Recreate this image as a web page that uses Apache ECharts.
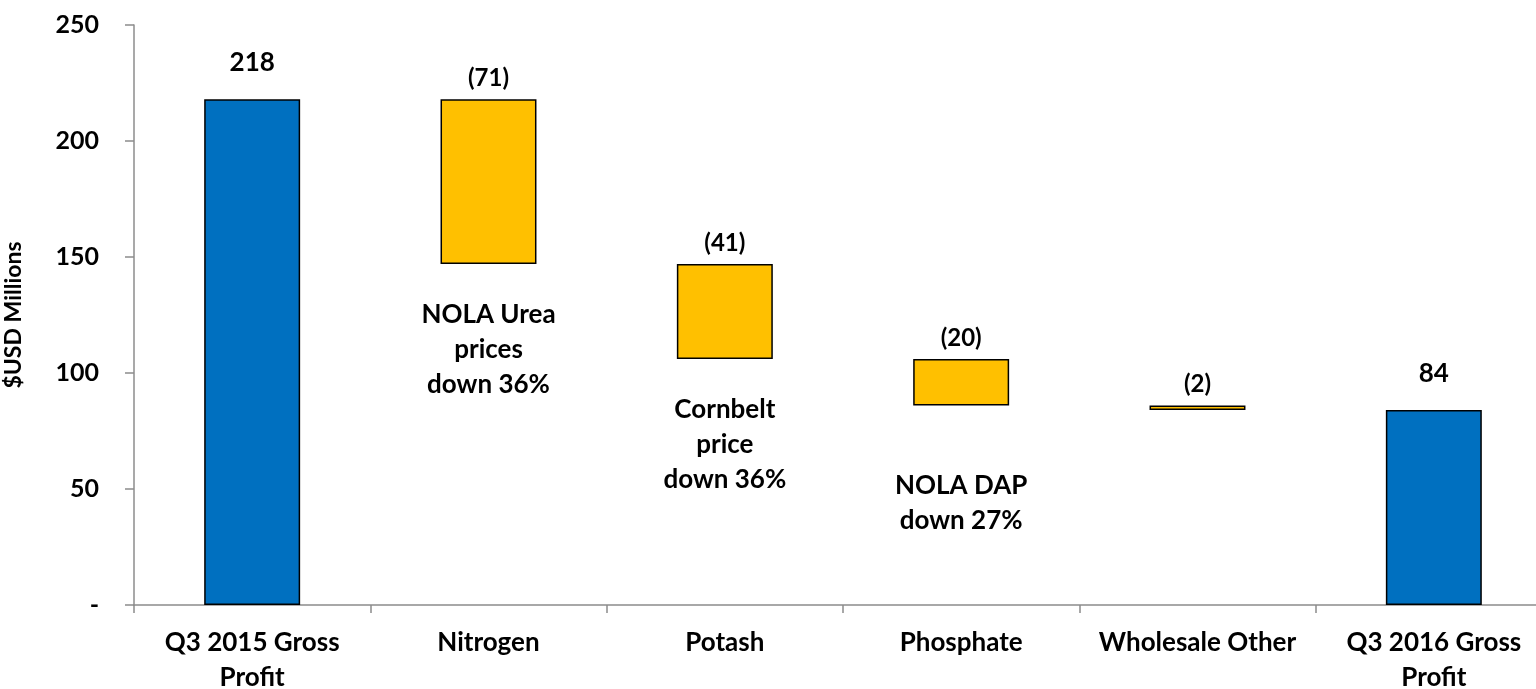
<!DOCTYPE html>
<html>
<head>
<meta charset="utf-8">
<script src="https://cdn.jsdelivr.net/npm/echarts@6/dist/echarts.min.js"></script>
<style>
  html, body { margin: 0; padding: 0; background: #ffffff; }
  #chart { width: 1536px; height: 689px; }
</style>
</head>
<body>
<div id="chart"></div>
<script>
// Gross profit bridge, $USD millions
const categories = ['Q3 2015 Gross\nProfit', 'Nitrogen', 'Potash', 'Phosphate', 'Wholesale Other', 'Q3 2016 Gross\nProfit'];
const startValue = 218;
const changes = [-71, -41, -20, -2];
const endValue = 84;
const yTicks = [0, 50, 100, 150, 200, 250];

// Notes printed under the falling steps: [category index, y position, text]
const notes = [
  [1, 110, 'NOLA Urea\nprices\ndown 36%'],
  [2, 69, 'Cornbelt\nprice\ndown 36%'],
  [3, 44, 'NOLA DAP\ndown 27%']
];

// Build the invisible base and visible segments of the waterfall
const baseData = [];
const totalData = [];
const deltaData = [];
let running = startValue;
baseData.push(0);
totalData.push(startValue);
deltaData.push('-');
changes.forEach(function (c) {
  const next = running + c;
  baseData.push(Math.min(running, next));
  totalData.push('-');
  deltaData.push({ value: Math.abs(c), change: c });
  running = next;
});
baseData.push(0);
totalData.push(endValue);
deltaData.push('-');

const FONT = 'Lato, "Open Sans", sans-serif';

const chart = echarts.init(document.getElementById('chart'), null, { renderer: 'canvas' });
chart.setOption({
  animation: false,
  grid: { left: 134, right: -16, top: 25, bottom: 84, containLabel: false, outerBoundsMode: 'none' },
  xAxis: {
    type: 'category',
    data: categories,
    axisLine: { show: true, lineStyle: { color: '#8c8c8c', width: 1.5 } },
    axisTick: { show: true, length: 8, interval: 0, alignWithLabel: false, lineStyle: { color: '#8c8c8c', width: 1.5 } },
    axisLabel: {
      interval: 0, margin: 20, color: '#000', fontFamily: FONT,
      fontWeight: 'bold', fontSize: 26, lineHeight: 35
    }
  },
  yAxis: {
    type: 'value',
    min: yTicks[0],
    max: yTicks[yTicks.length - 1],
    interval: 50,
    name: '$USD Millions',
    nameLocation: 'middle',
    nameRotate: 90,
    nameGap: 109,
    nameTextStyle: { color: '#000', fontFamily: FONT, fontWeight: 'bold', fontSize: 23 },
    splitLine: { show: false },
    axisLine: { show: true, lineStyle: { color: '#8c8c8c', width: 1.5 } },
    axisTick: { show: true, length: 9, lineStyle: { color: '#8c8c8c', width: 1.5 } },
    axisLabel: {
      margin: 35, color: '#000', fontFamily: FONT, fontWeight: 'bold', fontSize: 25,
      formatter: function (v) { return v === 0 ? '-' : String(v); }
    }
  },
  series: [
    {
      type: 'bar', stack: 'wf', barWidth: '40.6%', silent: true,
      itemStyle: { color: 'transparent', borderColor: 'transparent' },
      data: baseData
    },
    {
      type: 'bar', stack: 'wf', barWidth: '40.6%',
      itemStyle: { color: '#0070C0', borderColor: '#000', borderWidth: 1.5 },
      label: {
        show: true, position: 'top', distance: 24, color: '#000',
        fontFamily: FONT, fontWeight: 'bold', fontSize: 26
      },
      data: totalData
    },
    {
      type: 'bar', stack: 'wf', barWidth: '40.6%',
      itemStyle: { color: '#FFC000', borderColor: '#000', borderWidth: 1.5 },
      label: {
        show: true, position: 'top', distance: 9, color: '#000',
        fontFamily: FONT, fontWeight: 'bold', fontSize: 24,
        formatter: function (p) {
          const c = p.data.change;
          return c < 0 ? '(' + Math.abs(c) + ')' : String(c);
        }
      },
      data: deltaData
    },
    {
      type: 'scatter', symbolSize: 0, silent: true,
      itemStyle: { opacity: 1 },
      label: {
        show: true, position: 'inside', color: '#000',
        fontFamily: FONT, fontWeight: 'bold', fontSize: 26, lineHeight: 35, align: 'center',
        formatter: function (p) { return p.data[2]; }
      },
      data: notes
    }
  ]
});
</script>
</body>
</html>
